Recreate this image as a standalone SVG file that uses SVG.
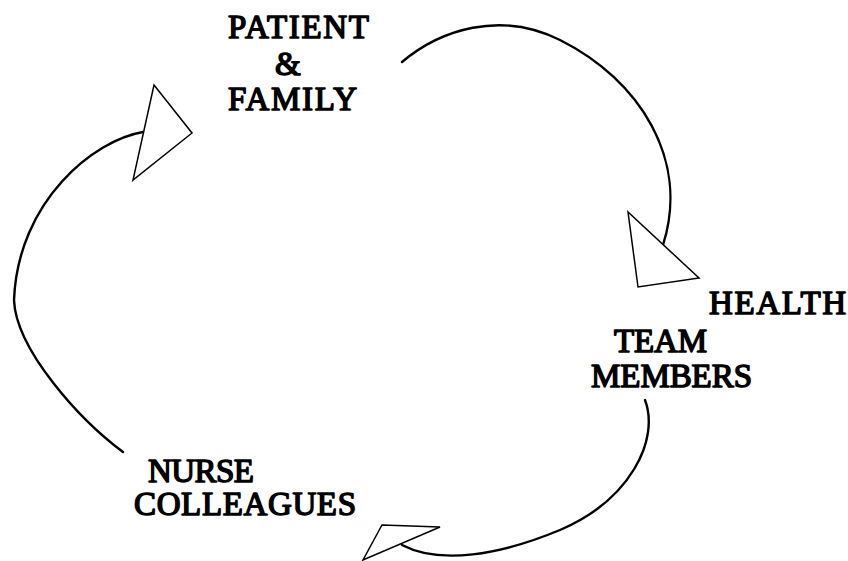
<svg xmlns="http://www.w3.org/2000/svg" width="848" height="561" viewBox="0 0 848 561">
<style>
  text { font-family: 'Liberation Serif', 'Times New Roman', serif; font-size: 33px; fill: #000; stroke: #000; stroke-width: 1.5; stroke-linejoin: round; }
  .arc { fill: none; stroke: #000; stroke-width: 2.4; stroke-linecap: round; }
  .head { fill: #fff; stroke: #000; stroke-width: 1.5; stroke-linejoin: miter; }
</style>
<rect width="848" height="561" fill="#fff"/>
<g id="connectors">
  <path class="arc" d="M402,62 C440,30 500,10 560,40 C640,80 690,160 663,245"/>
  <polygon class="head" points="628,212 638,287 699,278"/>
  <path class="arc" d="M645,400 C660,440 630,500 560,530 C500,555 440,565 402,545"/>
  <polygon class="head" points="382,525 440,527 363,560"/>
  <path class="arc" d="M123,452 C80,420 16,350 14,300 C18,200 95,140 143,132"/>
  <polygon class="head" points="154,85 192,133 133,180"/>
</g>
<g id="patient-family">
  <text x="228" y="38" textLength="141">PATIENT</text>
  <text x="275" y="75">&amp;</text>
  <text x="228" y="110" textLength="129">FAMILY</text>
</g>
<g id="health-team-members">
  <text x="709" y="314" textLength="137">HEALTH</text>
  <text x="614" y="352" textLength="93">TEAM</text>
  <text x="591" y="387" textLength="161">MEMBERS</text>
</g>
<g id="nurse-colleagues">
  <text x="148" y="482" textLength="106">NURSE</text>
  <text x="134" y="515" textLength="222">COLLEAGUES</text>
</g>
</svg>
